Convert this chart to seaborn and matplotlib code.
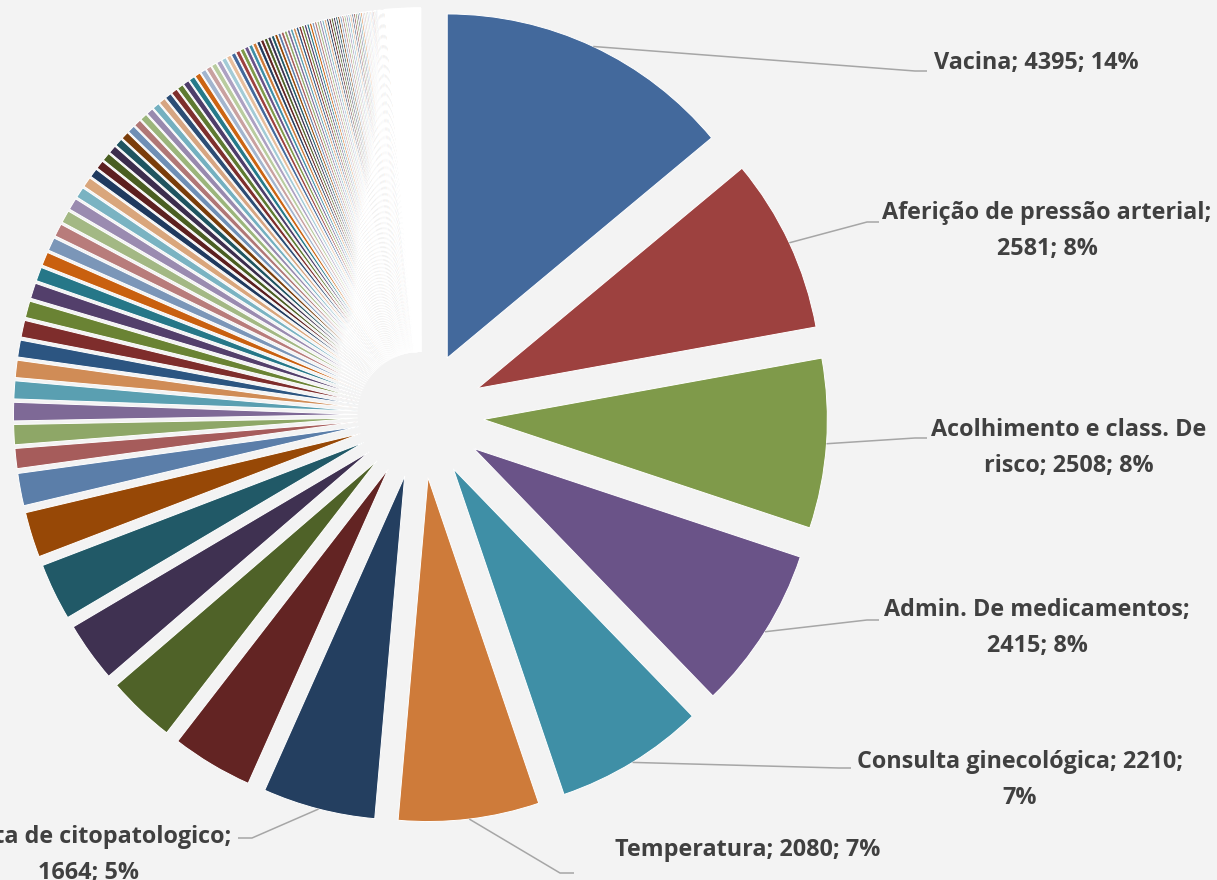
import textwrap
import matplotlib
matplotlib.use("Agg")
import matplotlib.pyplot as plt
import seaborn as sns
import numpy as np

# labelled procedures
names = ["Vacina", "Aferição de pressão arterial", "Acolhimento e class. De risco",
         "Admin. De medicamentos", "Consulta ginecológica", "Temperatura",
         "Coleta de citopatologico"]
named_values = [4395, 2581, 2508, 2415, 2210, 2080, 1664]

# unlabelled procedures (largest first)
other_values = [1200, 1009, 887, 844, 670, 478, 296, 296, 272, 265, 255, 250, 248, 245, 230,
                205, 200, 195, 190, 185, 175, 160, 150, 130, 125, 122, 118, 115, 113, 110,
                106, 104, 102, 100, 98, 95, 93, 90, 88, 86, 84]
small_values = [80, 77, 74, 71, 68, 66, 63, 61, 59, 57, 55, 53, 51, 49, 48, 46, 45, 43, 42, 41,
                40, 39, 38, 37, 36, 35, 34, 34, 33, 33, 32, 32, 31, 31, 30, 30, 29, 29, 28, 28,
                27, 27, 26, 26, 25, 25, 24, 24, 23, 23, 22, 22, 21, 21, 20, 20, 19, 19, 18, 18,
                17, 17, 16, 16, 15, 14, 14, 13, 13, 13, 12, 12]
tail_values = [11, 11, 11, 11, 10, 10, 10, 10, 10, 9, 9, 9, 9, 9, 9, 8, 8, 8, 8, 8, 8, 8,
               7, 7, 7, 7, 7, 7, 7, 6, 6, 6, 6, 6, 6, 6, 6, 5, 5, 5, 5, 5, 5, 5, 5,
               4, 4, 4, 4, 4, 4, 4, 4, 4, 3, 3, 3, 3, 3, 3, 3, 3, 3, 2, 2, 2, 2, 2, 2, 2, 2, 2, 2,
               1, 1, 1, 1, 1, 1, 1, 1, 1, 1, 1, 1]

values = named_values + other_values + small_values + tail_values
total = sum(values)

# Excel-like colour rounds (6 accents in different shades)
rounds = [
    ["#43699C", "#9D413F", "#7F9A4A", "#6A5388", "#3F8FA6", "#CE7B3A"],
    ["#243F60", "#632423", "#4F6228", "#3F3151", "#215967", "#974806"],
    ["#5B7EA9", "#A65C5B", "#8EA767", "#7E6996", "#5A9FB1", "#D08C56"],
    ["#2C5581", "#7E2D2C", "#6A8334", "#533F6B", "#267788", "#C9600F"],
    ["#7B96B8", "#B87C7B", "#A3B884", "#9A8BB0", "#7AB3C2", "#D9A67C"],
    ["#1F3A5F", "#5C1F1F", "#4A5E22", "#3C2D4D", "#1E5460", "#7A3D0A"],
    ["#6F8FB5", "#B07776", "#9BB57B", "#9889AE", "#74B0C0", "#D6A582"],
    ["#2C4D75", "#7E2F2D", "#5E7A31", "#4E3D6A", "#267A8A", "#CC6412"],
    ["#A2B5CE", "#C9A1A0", "#B9CC9F", "#ADA1C2", "#A3CBD6", "#E7BE9C"],
]
palette = sns.color_palette([rounds[(i // 6) % len(rounds)][i % 6] for i in range(len(values))])

# layout (pixels of the 1217x880 picture)
R_PX = 344
CX, CY = 420.5, 415
wrap_widths = [40, 29, 23, 23, 28, 40, 25]
label_pos = [(1036, 63), (1047, 231), (1069, 448), (1037, 628), (1020, 780), (748, 850), (88, 855)]
elbows = [(915, 71), (867, 222), (915, 438), (867, 620), (839, 768), (560, 873), (252, 838)]
ends = [(927, 71), (879, 222), (927, 438), (879, 620), (851, 768), (574, 873), (238, 838)]


def to_data(x, y):
    return (x - CX) / R_PX, (CY - y) / R_PX


def main():
    sns.set_theme(style="white")
    plt.rcParams["font.family"] = ["Open Sans", "DejaVu Sans"]

    bg = "#F3F3F3"
    fig = plt.figure(figsize=(12.17, 8.8), dpi=100, facecolor=bg)
    ax = fig.add_axes([0, 0, 1, 1])

    wedges, _ = ax.pie(values, colors=palette, explode=[63 / R_PX] * len(values),
                       startangle=90, counterclock=False,
                       wedgeprops=dict(edgecolor="white", linewidth=0.7))
    # the tiniest slices are thinner than their borders, so they come out white
    n_tail = len(tail_values)
    for w in wedges[-n_tail:]:
        w.set_facecolor("white")
        w.set_linewidth(1.0)

    x0, y0 = to_data(0, 880)
    x1, y1 = to_data(1217, 0)
    ax.set_xlim(x0, x1)
    ax.set_ylim(y0, y1)
    ax.set_aspect("auto")
    ax.axis("off")

    for i, name in enumerate(names):
        w = wedges[i]
        tm = np.deg2rad((w.theta1 + w.theta2) / 2)
        px_, py_ = w.center[0] + w.r * np.cos(tm), w.center[1] + w.r * np.sin(tm)
        ex, ey = to_data(*elbows[i])
        fx, fy = to_data(*ends[i])
        ax.plot([px_, ex, fx], [py_, ey, fy], color="#A6A6A6", lw=1.1, solid_capstyle="butt")

        pct = round(100 * named_values[i] / total)
        text = textwrap.fill(f"{name}; {named_values[i]}; {pct}%", wrap_widths[i])
        tx, ty = to_data(*label_pos[i])
        ax.text(tx, ty, text, ha="center", va="center", fontsize=16.8, fontweight="bold",
                color="#404040", linespacing=1.63)

    fig.savefig("out.png", dpi=100, facecolor=bg)


if __name__ == "__main__":
    main()
